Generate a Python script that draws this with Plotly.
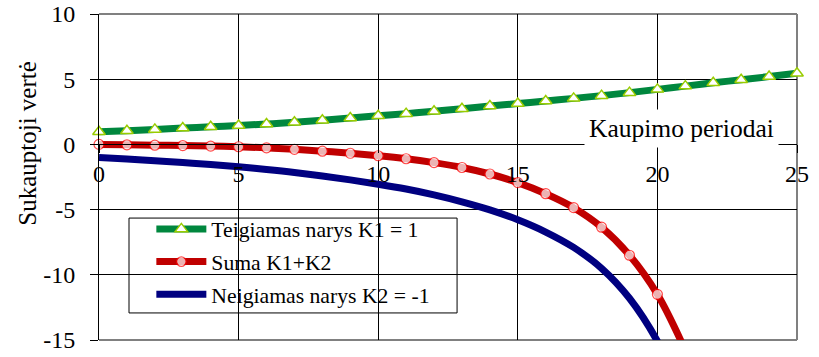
import plotly.graph_objects as go

# Kaupimo periodai (x)
periodai = list(range(0, 26))
# Teigiamas narys K1 = 1
teigiamas = [0.97, 1.05, 1.15, 1.25, 1.35, 1.45, 1.56, 1.70, 1.85, 2.02,
             2.20, 2.36, 2.54, 2.74, 2.94, 3.13, 3.33, 3.53, 3.74, 3.97,
             4.22, 4.47, 4.72, 4.96, 5.20, 5.46]
# Suma K1+K2
periodai_suma = list(range(0, 22))
suma = [0.0, -0.03, -0.06, -0.09, -0.13, -0.18, -0.26, -0.38, -0.52, -0.68,
        -0.87, -1.10, -1.40, -1.77, -2.27, -2.93, -3.78, -4.85, -6.35, -8.50,
        -11.5, -15.8]
# Neigiamas narys K2 = -1
periodai_neig = list(range(0, 22))
neigiamas = [-1.0, -1.12, -1.25, -1.39, -1.55, -1.72, -1.92, -2.15, -2.42, -2.72,
             -3.05, -3.42, -3.87, -4.40, -5.02, -5.78, -6.72, -7.9, -9.5, -11.8,
             -15.1, -19.8]

y_ticks = [10, 5, 0, -5, -10, -15]
x_ticks = [0, 5, 10, 15, 20, 25]

FONT = "Liberation Serif"
GREEN = "#00873E"
RED = "#C00000"
BLUE = "#000080"

fig = go.Figure()
fig.add_trace(go.Scatter(
    x=periodai, y=teigiamas, mode="lines+markers", name="Teigiamas narys K1 = 1",
    line=dict(color=GREEN, width=7, shape="spline", smoothing=1.0),
    marker=dict(symbol="triangle-up", size=11, color="white",
                line=dict(color="#99CC00", width=1.5)),
    cliponaxis=False, legendgroup="a"))
suma_sizes = [10 if v >= -15 else 0 for v in suma]
fig.add_trace(go.Scatter(
    x=periodai_suma, y=suma, mode="lines+markers", name="Suma K1+K2",
    line=dict(color=RED, width=7, shape="spline", smoothing=1.0),
    marker=dict(symbol="circle", size=suma_sizes, color="white",
                line=dict(color="#FF0000", width=1.2)),
    cliponaxis=False, legendgroup="b"))
fig.add_trace(go.Scatter(
    x=periodai_neig, y=neigiamas, mode="lines", name="Neigiamas narys K2 = -1",
    line=dict(color=BLUE, width=7, shape="spline", smoothing=1.0),
    legendgroup="c"))

fig.update_layout(
    width=819, height=357,
    margin=dict(l=99, r=22, t=14, b=17, autoexpand=False),
    plot_bgcolor="white", paper_bgcolor="white",
    font=dict(family=FONT, color="black"),
    showlegend=True,
    legend=dict(x=0.075, y=0.404, xanchor="left", yanchor="top",
                bgcolor="rgba(0,0,0,0)", borderwidth=0,
                font=dict(family=FONT, size=21.7, color="black"),
                traceorder="grouped", tracegroupgap=1.5,
                itemwidth=50),
    xaxis=dict(range=[0, 25], tickvals=x_ticks, ticktext=[str(v) for v in x_ticks],
               showgrid=True, gridcolor="black", gridwidth=1,
               showline=True, linecolor="black", linewidth=1,
               ticks="outside", ticklen=8, tickcolor="black",
               anchor="free", position=0.6, zeroline=False, automargin=False,
               tickfont=dict(family=FONT, size=24, color="black")),
    yaxis=dict(range=[-15, 10], tickvals=y_ticks, ticktext=[str(v) for v in y_ticks],
               showgrid=True, gridcolor="black", gridwidth=1,
               showline=True, linecolor="black", linewidth=1,
               ticks="outside", ticklen=8, tickcolor="black",
               ticklabelstandoff=10, zeroline=False, automargin=False,
               tickfont=dict(family=FONT, size=24, color="black")),
    shapes=[
        dict(type="line", xref="paper", yref="paper", x0=0, x1=1, y0=1, y1=1,
             line=dict(color="#808080", width=2), layer="between"),
        dict(type="line", xref="paper", yref="paper", x0=1, x1=1, y0=0, y1=1,
             line=dict(color="#808080", width=2), layer="between"),
        dict(type="line", xref="paper", yref="paper", x0=0, x1=1, y0=0, y1=0,
             line=dict(color="#808080", width=2), layer="between"),
        dict(type="rect", xref="paper", yref="paper", x0=0.043, x1=0.513,
             y0=0.083, y1=0.374, fillcolor="white",
             line=dict(color="black", width=1), layer="between"),
    ],
    annotations=[
        dict(text="Kaupimo periodai", x=20.87, y=1.25, xref="x", yref="y",
             showarrow=False, bgcolor="white", borderpad=4,
             font=dict(family=FONT, size=25.5, color="black"),
             xanchor="center", yanchor="middle"),
        dict(text="Sukauptoji vertė", x=-0.1037, y=0.604, xref="paper", yref="paper",
             showarrow=False, textangle=-90,
             font=dict(family=FONT, size=25, color="black"),
             xanchor="center", yanchor="middle"),
    ],
)

fig.write_html("out.html")
